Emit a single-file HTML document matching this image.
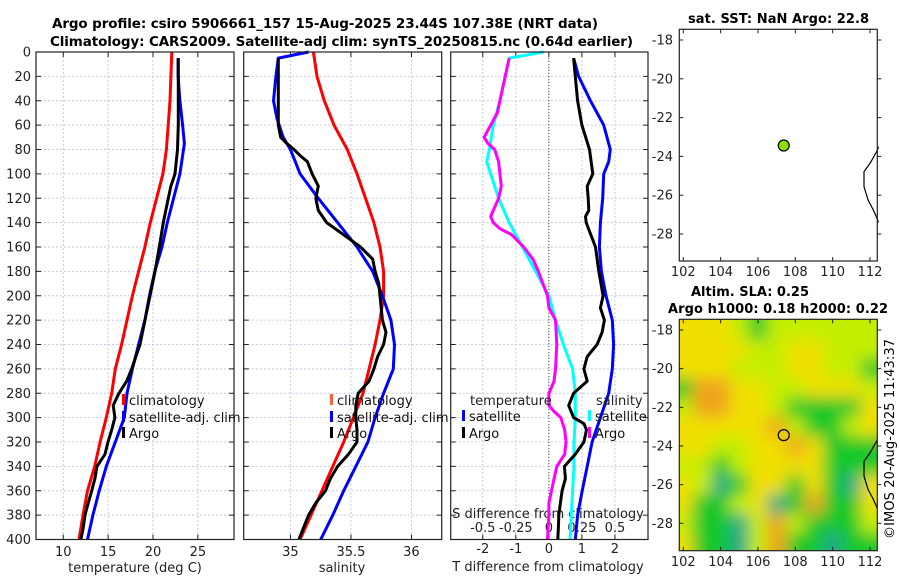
<!DOCTYPE html>
<html><head><meta charset="utf-8"><style>
html,body{margin:0;padding:0;background:#fff;}
svg{display:block;font-family:"DejaVu Sans","Liberation Sans",sans-serif;}
</style></head><body>
<svg id="fig" width="900" height="580" viewBox="0 0 900 580" xmlns="http://www.w3.org/2000/svg">
<defs>
<filter id="blur" x="-10%" y="-10%" width="120%" height="120%"><feGaussianBlur stdDeviation="8"/></filter>
<clipPath id="mapclip"><rect x="679.3" y="319.3" width="198" height="231.4"/></clipPath>
</defs>
<text x="52" y="28" font-size="13.5" font-weight="bold" textLength="546">Argo profile: csiro 5906661_157 15-Aug-2025 23.44S 107.38E (NRT data)</text>
<text x="50" y="46" font-size="13.5" font-weight="bold" textLength="583">Climatology: CARS2009. Satellite-adj clim: synTS_20250815.nc (0.64d earlier)</text>
<text x="688" y="23" font-size="13" font-weight="bold" textLength="181">sat. SST: NaN Argo: 22.8</text>
<text x="691" y="296" font-size="13" font-weight="bold" textLength="118">Altim. SLA: 0.25</text>
<text x="668" y="313" font-size="13" font-weight="bold" textLength="220">Argo h1000: 0.18 h2000: 0.22</text>
<text transform="translate(894,539) rotate(-90)" font-size="13" textLength="200">©IMOS 20-Aug-2025 11:43:37</text>
<g id="g"></g>
</svg>
<script>
// ---- profile data ----
const climDepth = [0,20,40,60,80,100,120,140,160,180,200,220,240,260,280,300,320,340,360,380,400];
const climTemp = [22.1,22.0,21.9,21.7,21.5,21.1,20.4,19.7,19.1,18.4,17.7,17.1,16.5,15.8,15.4,14.8,14.1,13.5,12.7,12.2,11.75];
const satTDepth = [5,20,40,60,75,90,100,120,140,160,180,200,220,240,260,280,300,320,340,360,380,400];
const satTemp = [22.8,22.8,23.0,23.3,23.5,23.2,23.0,22.3,21.6,21.0,20.2,19.6,19.1,18.4,17.7,17.1,16.8,15.8,14.8,14.0,13.3,12.7];
const argoTDepth = [5,20,40,60,80,100,110,120,140,160,180,200,220,240,260,270,280,290,300,310,320,330,340,350,360,370,380,390,400];
const argoTemp = [22.82,22.82,22.82,22.82,22.73,22.45,22.0,21.71,21.15,20.7,20.22,19.67,19.11,18.55,17.63,17.07,16.2,15.57,15.76,15.4,14.98,14.65,13.76,13.53,13.17,12.79,12.42,12.23,11.97];
const climSal = [35.19,35.22,35.28,35.36,35.47,35.55,35.62,35.69,35.74,35.77,35.77,35.74,35.70,35.65,35.6,35.52,35.44,35.35,35.26,35.17,35.08];
const satSDepth = [0,5,20,40,55,70,80,90,100,120,140,160,180,200,220,240,260,280,300,320,340,360,380,400];
const satSal = [35.15,34.9,34.88,34.86,34.89,34.94,35.0,35.04,35.08,35.23,35.39,35.55,35.68,35.76,35.83,35.86,35.85,35.77,35.70,35.64,35.54,35.44,35.35,35.25];
const argoSDepth = [5,20,40,60,70,75,80,85,90,100,110,120,130,140,150,160,170,180,190,200,220,230,240,250,260,270,280,290,300,310,320,330,340,350,360,370,380,390,400];
const argoSal = [34.90,34.90,34.90,34.90,34.92,34.97,35.03,35.08,35.14,35.18,35.23,35.21,35.23,35.30,35.44,35.58,35.68,35.70,35.73,35.74,35.76,35.79,35.77,35.72,35.69,35.65,35.56,35.54,35.54,35.55,35.55,35.48,35.39,35.33,35.29,35.21,35.15,35.11,35.07];
// differences from climatology
const dSatTDepth = [5,20,40,60,80,90,100,120,140,160,180,200,220,240,260,280,300,320,340,360,380,400];
const dSatT = [0.75,0.90,1.26,1.66,1.86,1.81,1.66,1.63,1.56,1.53,1.59,1.73,1.92,1.96,1.92,1.81,1.56,1.31,1.16,1.01,0.87,0.80];
const dArgoTDepth = [5,20,40,60,80,100,110,120,130,135,140,160,180,200,210,220,230,240,250,260,270,280,290,300,305,310,320,330,340,350,360,370,380,390,400];
const dArgoT = [0.75,0.80,0.87,1.00,1.23,1.33,1.16,1.19,1.21,1.11,1.13,1.41,1.51,1.64,1.56,1.68,1.61,1.46,1.16,1.06,1.16,0.75,0.60,0.75,1.06,1.14,1.06,0.80,0.47,0.50,0.40,0.35,0.30,0.29,0.27];
const dSatSDepth = [0,5,20,40,60,80,90,100,120,140,160,180,200,220,240,260,280,300,320,340,360,380,400];
const dSatS = [-0.04,-0.30,-0.33,-0.37,-0.42,-0.45,-0.47,-0.44,-0.38,-0.30,-0.20,-0.10,0.0,0.05,0.11,0.18,0.20,0.20,0.19,0.19,0.18,0.17,0.16];
const dArgoSDepth = [5,20,40,50,60,70,75,80,90,100,110,120,130,135,140,145,150,160,170,180,200,210,220,240,260,270,280,290,295,300,310,320,330,340,350,360,370,380,400];
const dArgoS = [-0.30,-0.33,-0.37,-0.39,-0.44,-0.49,-0.46,-0.41,-0.38,-0.37,-0.36,-0.38,-0.42,-0.44,-0.42,-0.37,-0.28,-0.19,-0.12,-0.08,-0.01,0.0,0.05,0.06,0.05,0.04,0.0,0.0,0.04,0.09,0.12,0.13,0.12,0.06,0.04,0.02,0.0,0.0,-0.01];
// ticks
const depthTicks = [0,20,40,60,80,100,120,140,160,180,200,220,240,260,280,300,320,340,360,380,400];
const tempTicks = [10,15,20,25];
const salTicks = [35,35.5,36];
const dTTicks = [-2,-1,0,1,2];
const dSTicks = [-0.5,-0.25,0,0.25,0.5];
const dSTickLabels = ['-0.5','-0.25','0','0.25','0.5'];
// maps
const lonTicks = [102,104,106,108,110,112];
const latTicks = [-18,-20,-22,-24,-26,-28];
const argoLon = 107.38, argoLat = -23.44;
const coastLon = [112.45,112.4,112.0,111.68,111.68,111.9,112.18,112.4,112.45];
const coastLat = [-23.5,-23.67,-24.36,-24.79,-25.56,-26.25,-26.77,-27.25,-27.4];
const slaLons = [102,103,104,105,106,107,108,109,110,111,112];
const slaLats = [-18,-19,-20,-21,-22,-23,-24,-25,-26,-27,-28,-29];
const slaLevels = [
 [3,3,3,2,1,2,2,2,2,2,2],
 [3,3,3,3,2,2,3,3,2,2,2],
 [3,3,3,2,2,2,3,3,2,2,1],
 [1,4,4,3,3,2,2,3,3,3,2],
 [2,4,4,3,3,2,1,1,1,1,3],
 [3,3,3,3,3,4,2,1,1,2,3],
 [3,3,2,2,3,3,4,3,1,1,1],
 [2,2,1,2,3,3,3,3,1,1,1],
 [3,2,0,1,3,3,1,3,1,0,3],
 [3,1,1,2,3,0,1,4,1,1,3],
 [2,1,1,0,2,4,2,1,1,1,2],
 [3,1,1,0,2,4,1,1,0,1,1]];
const slaColors = ['#1aa88a','#14c82a','#c4ee00','#f0e000','#f0a21a'];

const NS='http://www.w3.org/2000/svg';
const G=document.getElementById('g');
function el(tag,attrs,parent){const e=document.createElementNS(NS,tag);for(const k in attrs)e.setAttribute(k,attrs[k]);(parent||G).appendChild(e);return e;}
const Y0=52,Y1=539.5;
const yD=d=>Y0+d*(Y1-Y0)/400;
const panels=[
 {name:'temperature',x0:36,x1:234,d0:6.96,d1:29.03},
 {name:'salinity',x0:243.7,x1:441.7,d0:34.614,d1:36.25},
 {name:'difference',x0:450.7,x1:648,d0:-2.97,d1:3.0}];
function xf(p){return v=>p.x0+(v-p.d0)/(p.d1-p.d0)*(p.x1-p.x0);}
const xT=xf(panels[0]), xS=xf(panels[1]), xDT=xf(panels[2]);
const xDS=v=>xDT(v*4);

panels.forEach((p,i)=>{
  const g=el('g',{});
  
  
  el('rect',{x:p.x0,y:Y0,width:p.x1-p.x0,height:Y1-Y0,fill:'#fff'},g);
  depthTicks.forEach(d=>{
    const y=yD(d);
    const gl=el('line',{x1:p.x0,x2:p.x1,y1:y,y2:y,stroke:'#c4c8e4','stroke-width':1,'stroke-dasharray':'2,2'},g);
    
    
    el('line',{x1:p.x0,x2:p.x0+5,y1:y,y2:y,stroke:'#222','stroke-width':1},g);
    el('line',{x1:p.x1-5,x2:p.x1,y1:y,y2:y,stroke:'#222','stroke-width':1},g);
    if(i===0){
      const t=el('text',{x:31,y:y+4.5,'font-size':13,'text-anchor':'end',fill:'#222'},g);
      
      
      t.textContent=d;
    }
  });
});
function vgrid(p,xs,ticks){
  ticks.forEach(v=>{const x=xs(v);
    const gl=el('line',{x1:x,x2:x,y1:Y0,y2:Y1,stroke:'#c4c8e4','stroke-width':1,'stroke-dasharray':'2,2'});
    
    
    el('line',{x1:x,x2:x,y1:Y1-5,y2:Y1,stroke:'#222'});
    el('line',{x1:x,x2:x,y1:Y0,y2:Y0+5,stroke:'#222'});
  });
}
vgrid(panels[0],xT,tempTicks);
vgrid(panels[1],xS,salTicks);
vgrid(panels[2],xDT,dTTicks);
el('line',{x1:xDT(0),x2:xDT(0),y1:Y0,y2:Y1,stroke:'#555522','stroke-width':1,'stroke-dasharray':'1,2'});

function tlabel(x,y,txt,name,anchor){const t=el('text',{x:x,y:y,'font-size':13,'text-anchor':anchor||'middle',fill:'#222'});
  
  
  t.textContent=txt;return t;}
tempTicks.forEach(v=>tlabel(xT(v),556,v,'temperature-tick-label'));
salTicks.forEach(v=>tlabel(xS(v),556,v,'salinity-tick-label'));
dTTicks.forEach(v=>tlabel(xDT(v),553,v,'t-diff-tick-label'));
dSTicks.forEach((v,i)=>tlabel(xDS(v),532,dSTickLabels[i],'s-diff-tick-label'));
tlabel(135,572,'temperature (deg C)','temperature-axis-title');
tlabel(342,572,'salinity','salinity-axis-title');
tlabel(548,571,'T difference from climatology','t-diff-axis-title');
tlabel(548,518,'S difference from climatology','s-diff-axis-title');

function line(xs,vals,depths,color,name){
  const pts=vals.map((v,i)=>xs(v).toFixed(1)+','+yD(depths[i]).toFixed(1)).join(' ');
  const pl=el('polyline',{points:pts,fill:'none',stroke:color,'stroke-width':3,'stroke-linejoin':'round'});
  
  
}
line(xT,climTemp,climDepth,'#ff0000','climatology-temperature-line');
line(xT,satTemp,satTDepth,'#0000ff','satellite-temperature-line');
line(xT,argoTemp,argoTDepth,'#000000','argo-temperature-line');
line(xS,climSal,climDepth,'#ff0000','climatology-salinity-line');
line(xS,satSal,satSDepth,'#0000ff','satellite-salinity-line');
line(xS,argoSal,argoSDepth,'#000000','argo-salinity-line');
line(xDS,dSatS,dSatSDepth,'#00ffff','satellite-salinity-diff-line');
line(xDS,dArgoS,dArgoSDepth,'#ff00ff','argo-salinity-diff-line');
line(xDT,dSatT,dSatTDepth,'#0000ff','satellite-temperature-diff-line');
line(xDT,dArgoT,dArgoTDepth,'#000000','argo-temperature-diff-line');

panels.forEach(p=>el('rect',{x:p.x0,y:Y0,width:p.x1-p.x0,height:Y1-Y0,fill:'none',stroke:'#222','stroke-width':1.2}));

function legend(x,ys,cols,labels,name){
  ys.forEach((y,i)=>{
    const gg=el('g',{});
    
    
    el('rect',{x:x,y:y-11,width:3,height:11,fill:cols[i]},gg);
    const t=el('text',{x:x+7,y:y,'font-size':13,fill:'#111'},gg);t.textContent=labels[i];
  });
}
legend(122,[405,422,438],['#ff0000','#0000ff','#000'],['climatology','satellite-adj. clim','Argo'],'profile-legend');
legend(330,[405,422,438],['#ff6040','#0000ff','#000'],['climatology','satellite-adj. clim','Argo'],'salinity-legend');
tlabel(470,405,'temperature','diff-legend-temperature-header','start');
legend(462,[421,438],['#0000ff','#000'],['satellite','Argo'],'temperature-diff-legend');
tlabel(596,405,'salinity','diff-legend-salinity-header','start');
legend(588,[421,438],['#00ffff','#ff00ff'],['satellite','Argo'],'salinity-diff-legend');

// ---- maps ----
const MX0=679.3,MX1=877.3;
const mx=lon=>683.3+(lon-102)*18.67;
const maps=[{name:'sst-map',y0:29.3,y1:261,ly:lat=>40+(-18-lat)*19.4,lab:276},
            {name:'sla-map',y0:319.3,y1:550.7,ly:lat=>330+(-18-lat)*19.33,lab:566}];
maps.forEach((m,mi)=>{
  const g=el('g',{});
  
  
  if(mi===1){
    const hg=el('g',{'clip-path':'url(#mapclip)'},g);
    el('rect',{x:MX0,y:m.y0,width:MX1-MX0,height:m.y1-m.y0,fill:'#d4ea00'},hg);
    const bg=el('g',{filter:'url(#blur)'},hg);
    slaLats.forEach((lat,r)=>slaLons.forEach((lon,c)=>{
      const x=mx(lon-0.5), y=m.ly(lat+0.5);
      const w=mx(lon+0.5)-x, h=m.ly(lat-0.5)-y;
      const cell=el('rect',{x:x-(c===0?14:0),y:y-(r===0?14:0),width:w+1+(c===0?14:0)+(c===slaLons.length-1?14:0),height:h+1+(r===0?14:0)+(r===slaLats.length-1?14:0),fill:slaColors[slaLevels[r][c]]},bg);
      
      
    }));
  } else {
    el('rect',{x:MX0,y:m.y0,width:MX1-MX0,height:m.y1-m.y0,fill:'#fff'},g);
  }
  const cpts=coastLon.map((lon,i)=>mx(lon).toFixed(1)+','+m.ly(coastLat[i]).toFixed(1)).join(' ');
  const cl=el('polyline',{points:cpts,fill:'none',stroke:'#000','stroke-width':1.2,'clip-path':mi===1?'url(#mapclip)':''},g);
  
  
  el('rect',{x:MX0,y:m.y0,width:MX1-MX0,height:m.y1-m.y0,fill:'none',stroke:'#222','stroke-width':1.2},g);
  lonTicks.forEach(lon=>{const x=mx(lon);
    el('line',{x1:x,x2:x,y1:m.y1,y2:m.y1-4,stroke:'#222'},g);
    el('line',{x1:x,x2:x,y1:m.y0,y2:m.y0+4,stroke:'#222'},g);
    const t=el('text',{x:x,y:m.lab,'font-size':13,'text-anchor':'middle',fill:'#222'},g);
    
    
    t.textContent=lon;});
  latTicks.forEach(lat=>{const y=m.ly(lat);
    el('line',{x1:MX0,x2:MX0+4,y1:y,y2:y,stroke:'#222'},g);
    el('line',{x1:MX1,x2:MX1+4,y1:y,y2:y,stroke:'#222'},g);
    const t=el('text',{x:673,y:y+4.5,'font-size':13,'text-anchor':'end',fill:'#222'},g);
    
    
    t.textContent=lat;});
  const mk=el('circle',{cx:mx(argoLon),cy:m.ly(argoLat),r:5.5,fill:mi===0?'#88e000':'none',stroke:'#000','stroke-width':1.2},g);
  
  
});
</script>
</body></html>
